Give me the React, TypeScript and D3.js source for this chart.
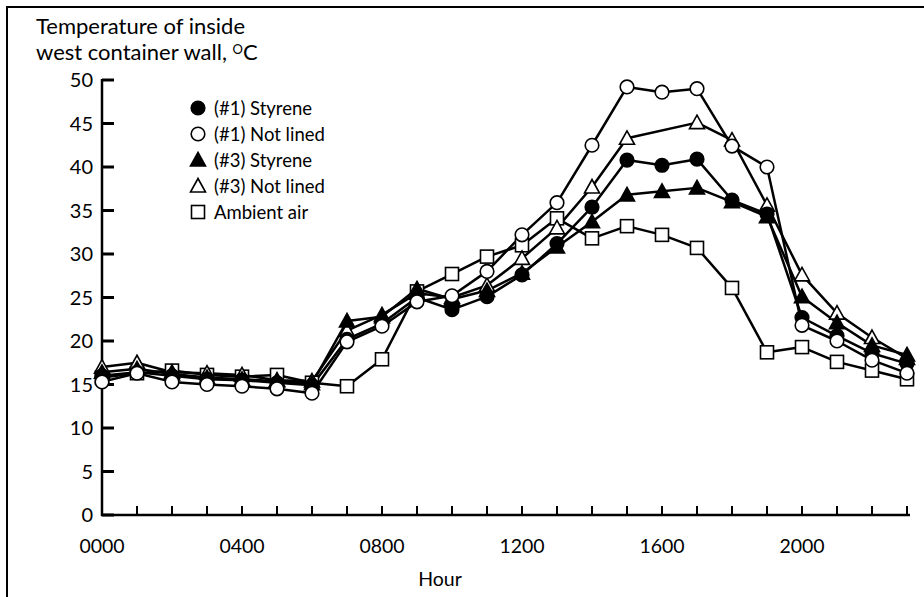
import React from 'react';
import * as d3 from 'd3';

const hours = [0, 1, 2, 3, 4, 5, 6, 7, 8, 9, 10, 11, 12, 13, 14, 15, 16, 17, 18, 19, 20, 21, 22, 23];

const styrene1 = [16.0, 16.4, 16.0, 15.6, 15.5, 15.2, 14.9, 20.2, 22.0, 25.0, 23.6, 25.1, 27.6, 31.2, 35.4, 40.8, 40.2, 40.9, 36.2, 34.6, 22.7, 20.6, 18.6, 17.4];
const notLined1 = [15.3, 16.3, 15.3, 15.0, 14.8, 14.5, 14.0, 19.9, 21.7, 24.5, 25.2, 28.0, 32.2, 35.9, 42.5, 49.2, 48.6, 49.0, 42.4, 40.0, 21.8, 20.0, 17.8, 16.3];
const styrene3 = [16.4, 16.8, 16.2, 15.8, 15.6, 15.4, 15.1, 22.3, 22.8, 26.0, 24.8, 25.8, 27.8, 30.8, 33.7, 36.8, 37.2, 37.6, 36.0, 34.3, 25.1, 22.1, 19.5, 18.4];
const notLined3: (number | null)[] = [17.0, 17.5, 16.4, 16.3, 16.1, 15.5, 15.4, 21.2, 23.0, 25.5, 25.0, 26.4, 29.5, 33.0, 37.7, 43.3, null, 45.1, 43.1, 35.6, 27.6, 23.2, 20.4, 18.0];
const ambient = [15.8, 16.3, 16.6, 16.1, 15.9, 16.1, 15.2, 14.8, 17.9, 25.7, 27.7, 29.7, 31.0, 34.1, 31.8, 33.2, 32.2, 30.7, 26.1, 18.7, 19.3, 17.6, 16.6, 15.6];

const xTickHours = [0, 4, 8, 12, 16, 20];
const xTickLabels = ['0000', '0400', '0800', '1200', '1600', '2000'];
const yTicks = [0, 5, 10, 15, 20, 25, 30, 35, 40, 45, 50];

type Shape = 'circle' | 'triangle' | 'square';
const seriesList: { name: string; values: (number | null)[]; shape: Shape; filled: boolean }[] = [
  { name: 'Ambient air', values: ambient, shape: 'square', filled: false },
  { name: '(#3) Not lined', values: notLined3, shape: 'triangle', filled: false },
  { name: '(#3) Styrene', values: styrene3, shape: 'triangle', filled: true },
  { name: '(#1) Styrene', values: styrene1, shape: 'circle', filled: true },
  { name: '(#1) Not lined', values: notLined1, shape: 'circle', filled: false },
];
const legendOrder = ['(#1) Styrene', '(#1) Not lined', '(#3) Styrene', '(#3) Not lined', 'Ambient air'];

const FONT = 'Lato, "Open Sans", sans-serif';

function Marker({ shape, filled, x, y }: { shape: Shape; filled: boolean; x: number; y: number }) {
  const fill = filled ? '#000' : '#fff';
  if (shape === 'circle') return <circle cx={x} cy={y} r={6.8} fill={fill} stroke="#000" strokeWidth={1.6} />;
  if (shape === 'square') return <rect x={x - 6.5} y={y - 6.5} width={13} height={13} fill={fill} stroke="#000" strokeWidth={1.6} />;
  const s = 7.5;
  return <path d={`M${x},${y - s}L${x + s},${y + s * 0.8}L${x - s},${y + s * 0.8}Z`} fill={fill} stroke="#000" strokeWidth={1.6} />;
}

export default function App() {
  const x = d3.scaleLinear().domain([0, 23]).range([102, 907]);
  const y = d3.scaleLinear().domain([0, 50]).range([515, 80]);
  const line = d3.line<[number, number]>().x(d => x(d[0])).y(d => y(d[1]));

  return (
    <svg width={924} height={597} style={{ position: 'absolute', left: 0, top: 0, background: '#fff' }}>
      <rect x={7} y={7} width={940} height={620} fill="#fff" stroke="#000" strokeWidth={2} />
      <text x={36} y={34} fontFamily={FONT} fontSize={22} fill="#000">Temperature of inside</text>
      <text x={36} y={60} fontFamily={FONT} fontSize={22} fill="#000">
        west container wall, <tspan fontSize={13} dy={-6}>O</tspan><tspan dy={6}>C</tspan>
      </text>

      {/* axes */}
      <line x1={102} x2={102} y1={y(50) - 1} y2={y(0) + 1} stroke="#000" strokeWidth={2.5} />
      <line x1={101} x2={x(23) + 3} y1={y(0)} y2={y(0)} stroke="#000" strokeWidth={2.5} />
      {yTicks.map(t => (
        <g key={t}>
          <line x1={102} x2={114} y1={y(t)} y2={y(t)} stroke="#000" strokeWidth={3} />
          <text x={93} y={y(t)} dy="0.36em" textAnchor="end" fontFamily={FONT} fontSize={20} fill="#000">{t}</text>
        </g>
      ))}
      {hours.filter(h => h > 0).map(h => (
        <line key={h} x1={x(h)} x2={x(h)} y1={y(0)} y2={y(0) - 9} stroke="#000" strokeWidth={2} />
      ))}
      {xTickHours.map((h, i) => (
        <text key={h} x={x(h)} y={553} textAnchor="middle" fontFamily={FONT} fontSize={19.5} fill="#000">{xTickLabels[i]}</text>
      ))}
      <text x={440} y={586} textAnchor="middle" fontFamily={FONT} fontSize={19.5} fill="#000">Hour</text>

      {/* lines */}
      {seriesList.map(s => {
        const pts: [number, number][] = [];
        hours.forEach((h, i) => { const v = s.values[i]; if (v != null) pts.push([h, v]); });
        return <path key={s.name} d={line(pts) || ''} fill="none" stroke="#000" strokeWidth={2.5} strokeLinejoin="round" />;
      })}
      {/* markers */}
      {seriesList.map(s => (
        <g key={s.name + 'm'}>
          {hours.map((h, i) => {
            const v = s.values[i];
            return v == null ? null : <Marker key={h} shape={s.shape} filled={s.filled} x={x(h)} y={y(v)} />;
          })}
        </g>
      ))}

      {/* legend */}
      {legendOrder.map((name, i) => {
        const s = seriesList.find(d => d.name === name)!;
        const cy = 108 + i * 26;
        return (
          <g key={name}>
            <Marker shape={s.shape} filled={s.filled} x={198} y={cy} />
            <text x={214} y={cy} dy="0.36em" fontFamily={FONT} fontSize={18.5} fill="#000">{name}</text>
          </g>
        );
      })}
    </svg>
  );
}
